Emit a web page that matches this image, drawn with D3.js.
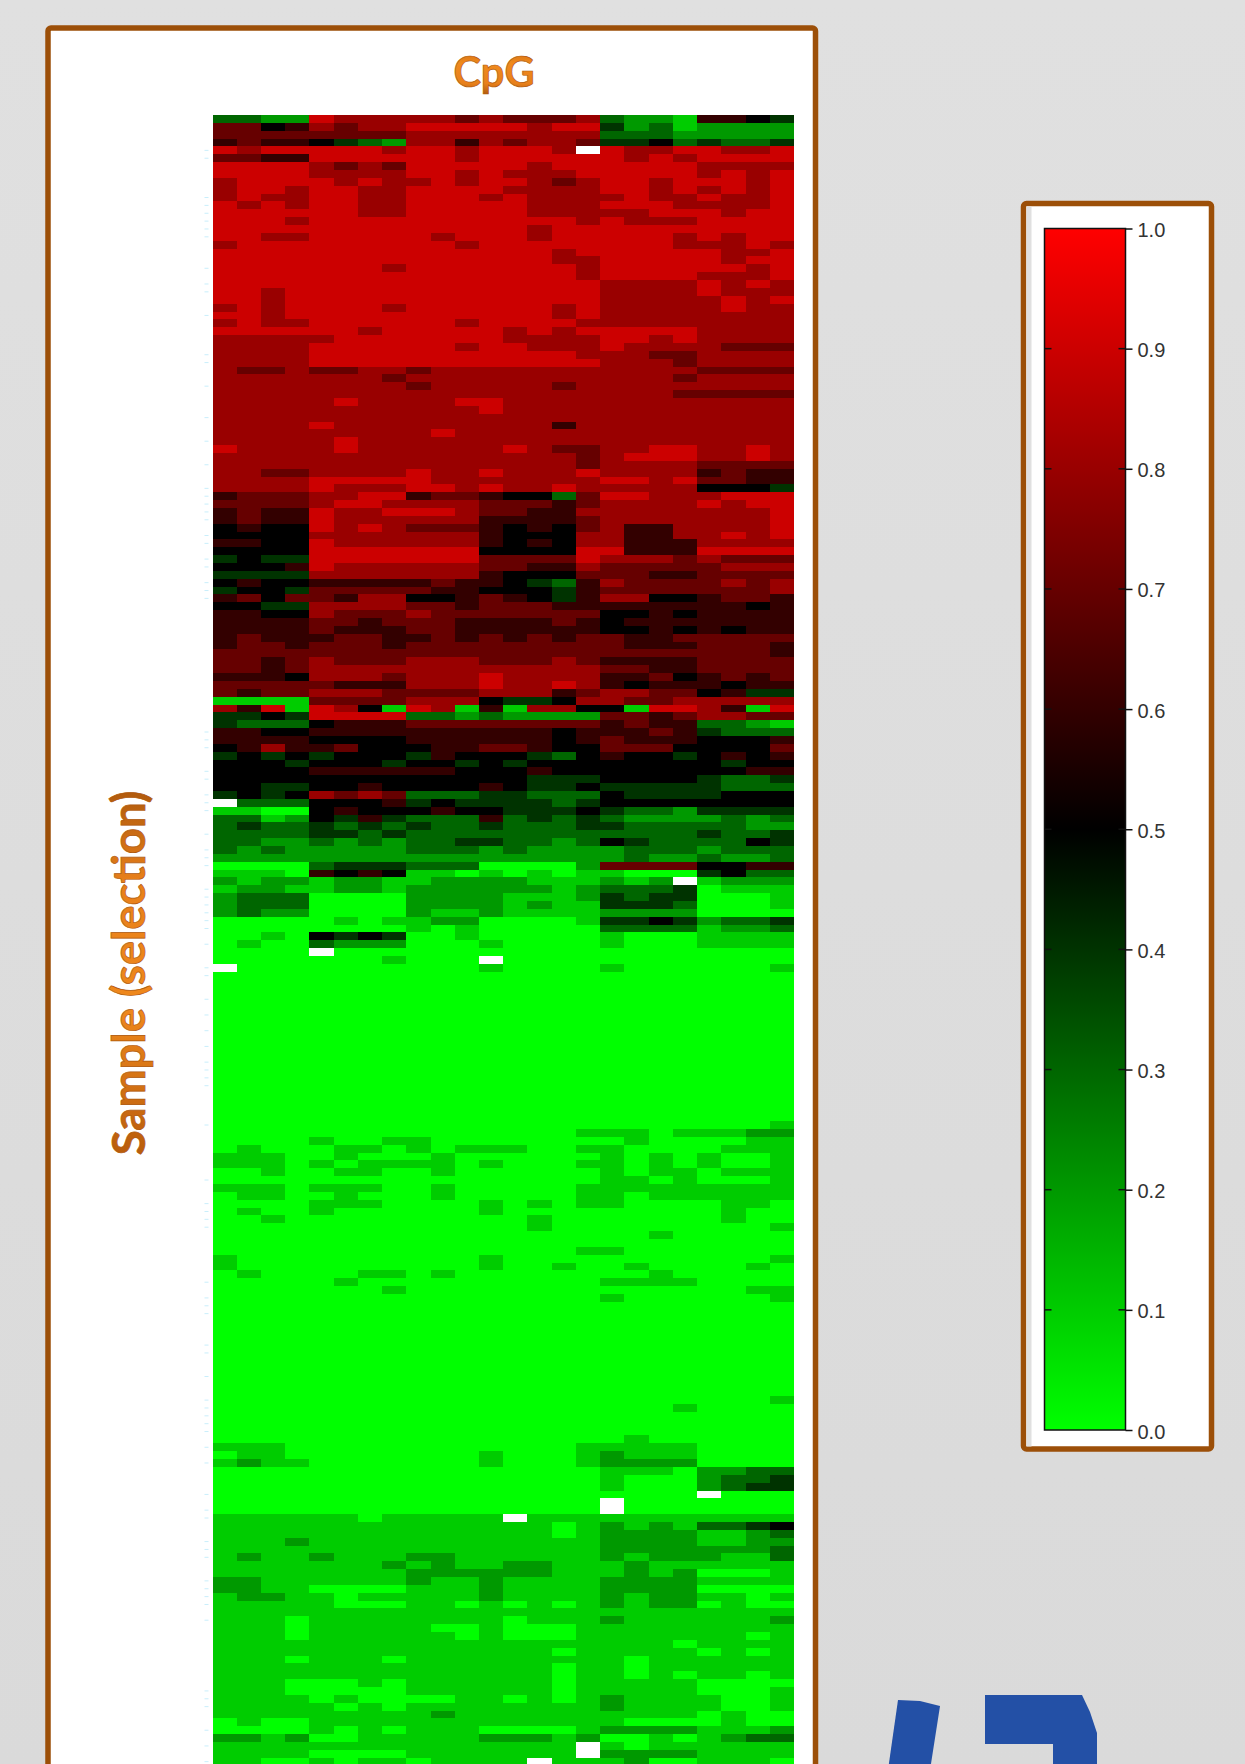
<!DOCTYPE html>
<html><head><meta charset="utf-8">
<script src="https://cdn.jsdelivr.net/npm/d3@7"></script>
<style>html,body{margin:0;padding:0;background:#ddd;overflow:hidden}svg{display:block}</style>
</head><body>
<svg id="c" width="1245" height="1764"></svg>
<script>
// Values are tenths (0-9 -> 0.0-0.9), "_" is a missing cell; one string per sample, 24 CpG sites.
const cpgSites = d3.range(1, 25).map(d => "CpG" + d);
const rowsHigh = [
"3322 9 88888 7 8 777 8 3 22 1 66 5 4","77 5 6 8 7 88 99999 8 99 4 2 3 1 2222","77777777 88888888 333 22222","6 7 66 5 4 3 2 88 6 8 7 88 7 44 5 3 4 33 4",
"9 8 99999 8 99 8 999 8 _ 9 88 99 88 9","77 66 999999 8 999999 8 9 8 9999","9999 8 7 8 7 99999 8 999999 8888","9999 8888 99 8 9 888 99999 8 9 8 9",
"8 9999 8 9 88 9 8 99 8 7 8 99 8 999 8 9","8 99 8 99 88 9999 8888 99 8 9 8 9 8 9","8 9 88 99 88 999 8 9 8888 9 88 9 88 9","9 8 9 8 99 88 99999 888 999 8888 9",
"999999 88 99999 88888 999 8 99","999 8 99999999999 8 9 888 9999","9999999999999 8 9999999999","99 88 99999 8 999 8 99999 8 9 8 99",
"8 999999999 8 99999999 888 9 8","99999999999999 8 999999 88 9","99999999999999 88 99999 8 99","9999999 8 9999999 8 999999 8 9",
"999999999999999 8 9999 888 9","9999999999999999 8888 9 8 9 8","99 8 9999999999999 8888 9 888","99 8 9999999999999 88888 9 8 9",
"8 9 8 9999 8 999999 8 9 88888 9 88","99 8 99999999999 8 9 88888888","8 9 88 999999 8 9999 888888888","999999 8 99999 8 9 8 99999 8888",
"88888 9999999 8888 99 8 9 8888","8888 999999 8 99 888 9 8888 777","8888 99999999999 888 77 8888","8888 999999999999 888 7 8888",
"8 77 8 77 88 7 88888888888 7777","8888888 7 88888888888 7 8888","88888888 7 88888 7 888888888","8888888888888888888 77777",
"88888 9 8888 99 888888888888","88888888888 9 888888888888","888888888888888888888888","8888 9 888888888 6 888888888",
"888888888 9 88888888888888","88888 9 888888888888888888","9 8888 9 888888 9 8 77 88 99 88 9 8","888888888888888 7 8 999 88 9 8",
"888888888888888 7 8888 7777","88 77 8888 9 88 9 888 9 8888 6 7 66","8888 99999 8888888 99 8 9 77 66","8888 9 888 99 8 9 88 9 88888 555 4"
];
const rowsMid = [
"6 777 88 99 6 77 6 55 3 7 99 88 8 999","7777 8 99 8888 777 6 7 8888 9 8 99","6 7 66 9 88 999 8 77 66 88888888 9","6 7 66 9 888888 6666 7 8888888 9",
"5 6 55 9 8 9 8 777 6 5 6 5 7 8 66 8888 9","5555 8 888888 6 5 55 88 66 88 9 8 9","66 55 9 888888 6 5 6 5 88 666 8888","5555 9999999 5555 99 666 9999",
"4 5 44 9999999 7777 9 888 7 8 777","555 6 9 888888 77 66 8 77777 888","4444 8888888 6 555 777 66 7777","5 6 55 66666 7 66 5 4 3 6 8 7777 8 7 8",
"4 55 4 77777 66 555 4 6 7777777 8","6 7 5 77 6 88 55 6 7 6 5 4 6 88 55 6 77 6","55 44 8888 77 6 777 66666666 5 6","66 55 8 777 8 7777777 55 6 5 6666",
"6666 77 6 777 6666 7 6 5 6666666","6666 7 666 77 666666 55 6 5 6 5 66","6 7 666 77 66 7 6 7 6 7 6 77 66 77777","6 77 6 777 6 777777777 666 777 6",
"77777777777777777777777 6","77 6 7 8 777 888 777 8 7 6666 7777","77 6 7 888888888888 77 66 7777","666 5 888 7 888 9 8888 66 7 5 6 7 6 7",
"7777 7 666 888 9 88 9 8 6 5 666 5 66","7 6 77 888 7777 888 6 7 88 77 5 6 44","1111 7777 888 5 44 5 88 77 88888","8 6 9 1 9 8 5 1 9 8 1 6 1 88 55 1 99 8 6 1 9",
"44 5 4 9999 33 2 3 2222 77 6 7 88 77","4 333 5 666 77777777 6 7 66 33 2 1","66 55 6666666666 5 6 66 7 6 4 333","6666 5555 666666 5 6 7 666 555 6",
"5 6 8 66 7 555 66 77 6 55 777 5555 7","4 5 4 5 4 555 4 6 555 4 3 5 6 55 4 5 6 5 6","555 4 555 4 55 4 5 4 55555555 4 55","5555 666666 555 6 55555555 66",
"5555555555555 444 5555 4 33 4","55 44 55 6 5555 6 5 44 5 44444 333","4 5 4 5 8 7 8 7 333 44 333 5 4444 555","_ 333 555 6 4 5 4444 3 4 55555555",
"11 00 5 6 555 6 55 444 5 4 33 2 4444","33 1 2 5 4 6 4 333 6 3 4 3 4 3 2222 3 2 3","3 4 33 4 3 4 3 4 33 4 333 44 33333 22","3333 44 3 4 333333333333 4 33 4",
"33 22 3 2 3 2 33 44 33 2 3 5 4 3333 5 4","3 2 3 22222 333 2 3 2222 333 2 333","22222222222222222 3 22 3 22 3","0000 3 444 333 0000 2 7777 55 66",
"111 0 6 5 6 5 11 0 1 0 1 0 11 000 4 5 33","2 1 22 1 22 11 2222 111 2 1 2 _ 1 222","1 22 11 22 1 222222 1 2 333 4 0 111","2 333 0000 2222 111 2 4 3 44 000 1",
"2 333 0000 2222 1 2 11 44 4 3 000 1","2 3 22 0000 2 11 2 1111 2222 0000"
];
const Z = "000000000000000000000000";
const rowsLow = [
"00000 1 0 11 22 0000 1 44 5 4 2 33 4","00000000 1 0 1 00000 3333 1 22 3","00 1 0 5 4 5 4 00 1 00000 1 000 1111","0 1 00 3 222 000 1 0000 1 000 1111",
"0000 _ 0000000000000000000","0000000 1 000 _ 000000000000","_ 0000000000 1 0000 1 000000 1",
Z,Z,Z,Z,Z,Z,Z,Z,Z,Z,Z,Z,Z,Z,Z,Z,Z,Z,Z,
"00000000000000000000000 1","000000000000000 111 0 111 22","0000 1 00 11 00000000 1 0000 11","0 1 000 11 0 1 0 111 00 11 0000 111",
"111 00 1 000 1 000000 1 0 1 0 1 00 1","111 0 1 0 1111 0 1 000 11 0 1 0 1 00 1","00 1 00 11 00 1 000000 1 0 11 0 111","0000000000000000 11 0 1 000 1",
"111 0 111 00 1 00000 111111111","0 11 00 1 000 1 00000 11 0 111111","0000 111 0000 1 0 1 0 11 0000 11 0","0 1 00 1 000000 1 000000000 1 00",
"00 1 0000000000 1 0000000 1 00","0000000000000 1 000000000 1","000000000000000000 1 00000",Z,
"000000000000000 11 0000000","1 0000000000 1 00000000000 1","1 0000000000 1 00 1 00 1 0000 1 0","0 1 0000 11 0 1 00000000 1 00000",
"00000 1 0000000000 1111 0000","0000000 1 00000000000000 11","0000000000000000 1 000000 1",Z,
Z,Z,Z,Z,Z,Z,Z,Z,Z,Z,Z,
"00000000000000000000000 1","0000000000000000000 1 0000",Z,Z,Z,"00000000000000000 1 000000"
];
const rowsTail = [
"111 000000000000 11111 0000","0 11 00000000 1 000 1 2 111 0000","1 2 11 0000000 1 000 1 2222 0000","0000000000000000 111 0 22 33",
"0000000000000000 1 000 2 33 4","0000000000000000 1 000 2 3 44","00000000000000000000 _ 000","0000000000000000 _ 0000000",
"0000000000000000 _ 0000000","111111 0 11111 _ 11111111111","11111111111111 0 1 2 1 2 1 33 4 5","11111111111111 0 1 2222 11 2 3",
"111 2 111111111111 2222 11 22","1111111111111111 2222222 3","1 2 11 2 111 22 111111 2 1 222 11 3","1111111 2 1 2 11 22 111 2 111111",
"11111111 222222 111 2 1 2 000 1","22 111111 2 11 2 1111 2222 1111","22 11 0000 111 2 1111 2222 0000","1 22 11 0 11111 2 1111 2 1 22 11 0 1",
"11111 000 11 0 1 0 1 0 1 2 1 22 0 1 00","111111111111111111111111","111 0 11111111 0 111 2 111111 2","111 0 11111 00 1 000 111111111",
"111 0 111111 0 1 000 1111111 0 1","1111111111111111111 0 1111","11111111111111 0 11111 0 1 0 1","111 0 111 0 111111111 0 111111",
"11111111111111 0 11 0 111111","11111111111111 0 11 0 1 0 11 0 1","111 000 1 0 111111 0 11111 0000","111 00000 111111 0 11111 000 1",
"1111 0 1 0000 11 0 1 0 1 2 1111 00 1","11111 0 1 0 11111111 2 1111 00 1","111111111 2 1111111111 0 1 00","0 1 00 1111111111111 0000 1 00",
"0000 1 0 1 0 111 0000 1 2222 111 2","22 1 2 00 11111 222 1 2 00 1 0 1 2 33","111111111111111 _ 1 0 111111","1111 0000 1111111 _ 2222 1111",
"11 00 1 0 11 0 1111 _ 111 2 00 111 0"
];
const legendTicks = [0, 0.1, 0.2, 0.3, 0.4, 0.5, 0.6, 0.7, 0.8, 0.9, 1.0];
const sampleTickRows = [4,5,10,11,12,13,14,15,19,21,22,25,30,31,34,38,41,44,47,48,49,50,51,53,54,56,57,59,60,61,78,79,80,83,84,86,87,88,91,93,94,95,98,99,100,101,102,103,105,108,109,112,114,116,118,120,121,122,123,128,135,138,139,140,141,148,150,151,152,156,157,160,163,164,165,166,167,169,171,175,177,178,181,182,183,186,187,188,189,191,200,201,202,205,207,209];

const rows = [...rowsHigh, ...rowsMid, ...rowsLow, ...rowsTail].map(s => s.replace(/ /g, ""));
const cells = [];
rows.forEach((s, r) => cpgSites.forEach((c, i) => {
  const ch = s[i];
  cells.push({row: r, site: c, value: (ch === "_" || ch === undefined) ? null : +ch / 10});
}));

const svg = d3.select("#c");
const defs = svg.append("defs");
const W = 1245, H = 1764;

function grad(id, stops, x2, y2) {
  const g = defs.append("linearGradient").attr("id", id).attr("x1", 0).attr("y1", 0).attr("x2", x2).attr("y2", y2);
  stops.forEach(([o, c]) => g.append("stop").attr("offset", o).attr("stop-color", c));
}
grad("bg", [[0, "#e0e0e0"], [1, "#dadada"]], 0, 1);
grad("orangeV", [[0, "#c9660f"], [0.35, "#f08a1d"], [0.75, "#e8801a"], [1, "#a9560c"]], 0, 1);
grad("orangeH", [[0, "#b85c0c"], [0.4, "#ef881c"], [0.75, "#e8801a"], [1, "#b05a0d"]], 1, 0);
grad("legendGrad", [[0, "#ff0000"], [0.5, "#000000"], [1, "#00ff00"]], 0, 1);

svg.append("rect").attr("width", W).attr("height", H).attr("fill", "url(#bg)");

// decorative blue fragments at the bottom right
const blue = "#2350a6";
const blueLeft = [[898,1700],[920,1701],[940,1706],[930,1770],[888,1770]];
const blueRight = [[985,1695],[1082,1695],[1090,1712],[1097,1733],[1097,1770],[1053,1770],[1053,1744],[985,1744]];
[blueLeft, blueRight].forEach(p => svg.append("path").attr("d", d3.line()(p) + "Z").attr("fill", blue));

// main panel
const frame = "#9c4f08";
svg.append("rect").attr("x", 48).attr("y", 28).attr("width", 767.5).attr("height", 1800).attr("rx", 3)
  .attr("fill", "#fff").attr("stroke", frame).attr("stroke-width", 5.5);

// heat map
const margin = {left: 212.5, top: 115};
const cellW = 24.23, cellH = 7.86;
const x = d3.scaleBand().domain(cpgSites).range([margin.left, margin.left + cellW * cpgSites.length]);
const y = d3.scaleBand().domain(d3.range(rows.length)).range([margin.top, margin.top + cellH * rows.length]);
const color = d3.scaleLinear().domain([0, 0.5, 1]).range(["#00ff00", "#000000", "#ff0000"]);

svg.append("g").attr("shape-rendering", "crispEdges").selectAll("rect").data(cells).join("rect")
  .attr("x", d => x(d.site)).attr("y", d => y(d.row))
  .attr("width", x.bandwidth()).attr("height", y.bandwidth())
  .attr("fill", d => d.value === null ? "#ffffff" : color(d.value));

const yAxis = d3.axisLeft(y).tickValues(sampleTickRows).tickSize(4).tickFormat("");
svg.append("g").attr("transform", "translate(" + (margin.left - 4) + ",0)").call(yAxis)
  .call(g => g.select(".domain").remove())
  .call(g => g.selectAll("line").attr("stroke", "#c9eefb").attr("stroke-width", 1));

// titles
const titleFont = "Lato, 'Open Sans', sans-serif";
svg.append("text").attr("x", 494).attr("y", 87).attr("text-anchor", "middle")
  .attr("font-family", titleFont).attr("font-weight", 700).attr("font-size", 41.5)
  .attr("fill", "url(#orangeV)").attr("stroke", "#b05a0d").attr("stroke-width", 0.7)
  .text("CpG");
svg.append("text").attr("transform", "translate(145,973) rotate(-90)").attr("text-anchor", "middle")
  .attr("font-family", titleFont).attr("font-weight", 700).attr("font-size", 45.5)
  .attr("fill", "url(#orangeH)").attr("stroke", "#b05a0d").attr("stroke-width", 0.7)
  .text("Sample (selection)");

// legend panel
svg.append("rect").attr("x", 1023.5).attr("y", 203.5).attr("width", 188).attr("height", 1245.5).attr("rx", 3)
  .attr("fill", "#fff").attr("stroke", frame).attr("stroke-width", 5.5);
svg.append("rect").attr("x", 1026.5).attr("y", 206.5).attr("width", 5).attr("height", 1240).attr("fill", "#e0e0e0");

const lg = {x0: 1044.5, x1: 1125.5, top: 228.5, bottom: 1430};
svg.append("rect").attr("x", lg.x0).attr("y", lg.top).attr("width", lg.x1 - lg.x0).attr("height", lg.bottom - lg.top)
  .attr("fill", "url(#legendGrad)").attr("stroke", "#111").attr("stroke-width", 1.5);
const ls = d3.scaleLinear().domain([0, 1]).range([lg.bottom, lg.top]);
const lAxis = d3.axisRight(ls).tickValues(legendTicks).tickSize(7).tickPadding(5).tickFormat(d3.format(".1f"));
const la = svg.append("g").attr("transform", "translate(" + lg.x1 + ",0)").call(lAxis);
la.select(".domain").remove();
la.selectAll("line").attr("stroke", "#111").attr("stroke-width", 1.5);
la.selectAll("text").attr("font-family", "'Liberation Sans', Arial, sans-serif").attr("font-size", 20)
  .attr("fill", "#333").attr("dy", "0.4em");
svg.append("g").attr("transform", "translate(" + lg.x0 + ",0)").selectAll("line")
  .data(legendTicks.slice(1, -1)).join("line")
  .attr("x1", 0).attr("x2", 7).attr("y1", d => ls(d)).attr("y2", d => ls(d))
  .attr("stroke", "#111").attr("stroke-width", 1.5);
svg.append("g").attr("transform", "translate(" + lg.x1 + ",0)").selectAll("line")
  .data(legendTicks.slice(1, -1)).join("line")
  .attr("x1", -7).attr("x2", 0).attr("y1", d => ls(d)).attr("y2", d => ls(d))
  .attr("stroke", "#111").attr("stroke-width", 1.5);
</script>
</body></html>
